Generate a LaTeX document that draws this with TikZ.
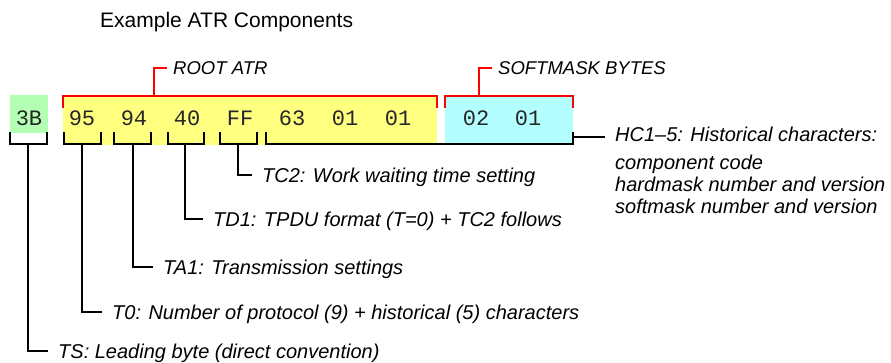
\documentclass[tikz,border=0pt]{standalone}
\usepackage{fontspec}
\setmainfont{Liberation Sans}
\newfontfamily\bytefont{Liberation Mono}
\definecolor{tsgreen}{HTML}{B3FFB3}
\definecolor{rootyellow}{HTML}{FFFF80}
\definecolor{softcyan}{HTML}{B3FFFF}
\definecolor{brred}{HTML}{FF0000}
\tikzset{
  blk/.style={line width=2pt, draw=black},
  redbr/.style={line width=2pt, draw=brred},
  boxbg/.style={inner sep=0pt, anchor=north west, draw=none},
  bytetxt/.style={inner sep=0pt, anchor=base, text=black!85, font=\bytefont\fontsize{22}{24}\selectfont},
  lab/.style={inner xsep=10pt, inner ysep=0pt, anchor=base west, align=left,
    font=\itshape\fontsize{20}{22}\selectfont},
  hdr/.style={inner xsep=6pt, inner ysep=0pt, anchor=base west,
    font=\itshape\fontsize{18.5}{20}\selectfont},
}
\begin{document}
\begin{tikzpicture}[x=1pt,y=-1pt]
\useasboundingbox (0,0) rectangle (891,362);
% title
\node[inner sep=0pt, anchor=base west, font=\fontsize{21}{24}\selectfont] (title) at (100,27.5) {Example ATR Components};
% coloured boxes
\node[boxbg, fill=tsgreen, minimum width=38pt, minimum height=38pt] (gbox) at (10,95) {};
\node[boxbg, fill=rootyellow, minimum width=374pt, minimum height=50pt] (ybox) at (63,95) {};
\node[boxbg, fill=softcyan, minimum width=128pt, minimum height=50pt] (cbox) at (445,95) {};
% bytes
\node[bytetxt] (b3B) at (29,125) {3B};
\node[bytetxt] (b95) at (82,125) {95};
\node[bytetxt] (b94) at (134,125) {94};
\node[bytetxt] (b40) at (187,125) {40};
\node[bytetxt] (bFF) at (240,125) {FF};
\node[bytetxt] (b63) at (292,125) {63};
\node[bytetxt] (b01a) at (345,125) {01};
\node[bytetxt] (b01b) at (398,125) {01};
\node[bytetxt] (b02) at (476,125) {02};
\node[bytetxt] (b01c) at (528,125) {01};
% red brackets and headers
\node[hdr] (root) at (167,74) {ROOT ATR};
\node[hdr] (soft) at (492,74) {SOFTMASK BYTES};
\draw[redbr] (63,108) -- (63,96) -- (437,96) -- (437,108);
\draw[redbr] (445,108) -- (445,96) -- (573,96) -- (573,108);
\coordinate (rootstem) at (154,96);
\coordinate (softstem) at (479,96);
\draw[redbr] (rootstem) |- (root.west);
\draw[redbr] (softstem) |- (soft.west);
% labels
\node[lab] (lTC2) at (252,182) {TC2: Work waiting time setting};
\node[lab] (lTD1) at (203,226) {TD1: TPDU format (T=0) + TC2 follows};
\node[lab] (lTA1) at (153,274) {TA1: Transmission settings};
\node[lab] (lT0) at (102,319) {T0: Number of protocol (9) + historical (5) characters};
\node[lab] (lTS) at (48,358) {TS: Leading byte (direct convention)};
\node[lab] (lHC) at (605,213) {HC1–5: Historical characters:\\[6pt]component code\\hardmask number and version\\softmask number and version};
% byte brackets
\draw[blk] (10,132) -- (10,144) -- (47,144) -- (47,132);
\draw[blk] (64,132) -- (64,144) -- (101,144) -- (101,132);
\draw[blk] (114,132) -- (114,144) -- (151,144) -- (151,132);
\draw[blk] (168,132) -- (168,144) -- (204,144) -- (204,132);
\draw[blk] (220,132) -- (220,144) -- (257,144) -- (257,132);
\draw[blk] (266,132) -- (266,144) -- (573,144) -- (573,132);
\coordinate (sTS) at (28,144);
\coordinate (sT0) at (82,144);
\coordinate (sTA1) at (133,144);
\coordinate (sTD1) at (185,144);
\coordinate (sTC2) at (238,144);
\coordinate (sHC) at (573,137);
\draw[blk] (sTS) |- ([yshift=7pt]lTS.base west);
\draw[blk] (sT0) |- ([yshift=7pt]lT0.base west);
\draw[blk] (sTA1) |- ([yshift=7pt]lTA1.base west);
\draw[blk] (sTD1) |- ([yshift=7pt]lTD1.base west);
\draw[blk] (sTC2) |- ([yshift=7pt]lTC2.base west);
\draw[blk] (sHC) -- (sHC -| lHC.west);
\end{tikzpicture}
\end{document}
